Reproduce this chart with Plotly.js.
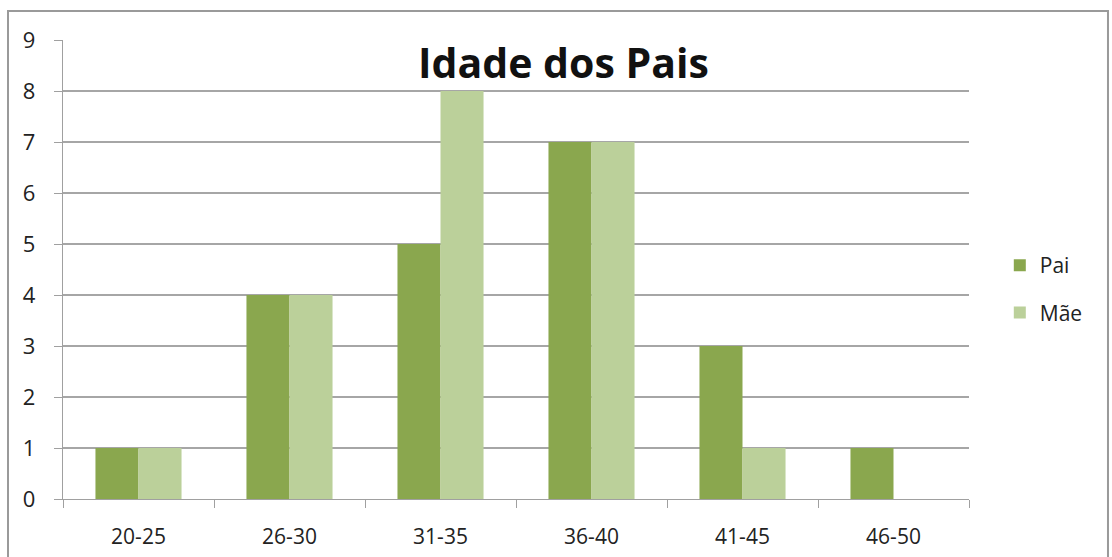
<!DOCTYPE html>
<html>
<head>
<meta charset="utf-8">
<script src="https://cdn.plot.ly/plotly-3.0.1.min.js"></script>
<style>html,body{margin:0;padding:0;background:#fff;}#chart{width:1112px;height:557px;}</style>
</head>
<body>
<div id="chart"></div>
<script>
const categories = ["20-25", "26-30", "31-35", "36-40", "41-45", "46-50"];
const pai = [1, 4, 5, 7, 3, 1];
const mae = [1, 4, 8, 7, 1, 0];
const seriesNames = ["Pai", "Mãe"];
const titleText = "Idade dos Pais";

const font = "Open Sans, DejaVu Sans, sans-serif";
const data = [
  {type: "bar", x: categories, y: pai, name: seriesNames[0], legendgroup: "a",
   marker: {color: "#8aa74e"}},
  {type: "bar", x: categories, y: mae, name: seriesNames[1], legendgroup: "b",
   marker: {color: "#bbd09a"}}
];
const layout = {
  width: 1112, height: 557,
  margin: {l: 63, r: 143, t: 40, b: 58},
  paper_bgcolor: "#fff", plot_bgcolor: "#fff",
  barmode: "group", bargap: 0.43, bargroupgap: 0,
  font: {family: font, color: "#222", size: 21},
  xaxis: {type: "category", showgrid: false, showline: true, linecolor: "#a0a0a0", linewidth: 1.3,
          ticks: "outside", tickson: "boundaries", ticklen: 8, tickcolor: "#a0a0a0",
          ticklabelstandoff: 18,
          tickfont: {size: 21, family: font, color: "#222"}, range: [-0.5, 5.5]},
  yaxis: {range: [0, 9], dtick: 1, showgrid: true, gridcolor: "#a6a6a6", gridwidth: 1.3,
          showline: true, linecolor: "#a0a0a0", linewidth: 1.3, ticks: "outside", ticklen: 8,
          ticklabelstandoff: 14,
          tickcolor: "#a0a0a0", zeroline: false, tickfont: {size: 22, family: font, color: "#222"}},
  showlegend: true,
  legend: {x: 1.034, y: 0.4575, xanchor: "left", yanchor: "middle", traceorder: "grouped",
           tracegroupgap: 17, font: {size: 21, family: font, color: "#222"}, itemwidth: 30},
  annotations: [{text: "<b>" + titleText + "</b>", xref: "paper", yref: "paper", x: 0.552, y: 0.952,
                 xanchor: "center", yanchor: "middle", showarrow: false,
                 font: {size: 41, family: font, color: "#111"}}],
  shapes: [{type: "rect", xref: "paper", yref: "paper", x0: -0.0607, x1: 1.1534, y0: -0.3, y1: 1.0632,
            line: {color: "#9a9a9a", width: 2}, layer: "below"}]
};
Plotly.newPlot("chart", data, layout, {displayModeBar: false, staticPlot: true});
</script>
</body>
</html>
